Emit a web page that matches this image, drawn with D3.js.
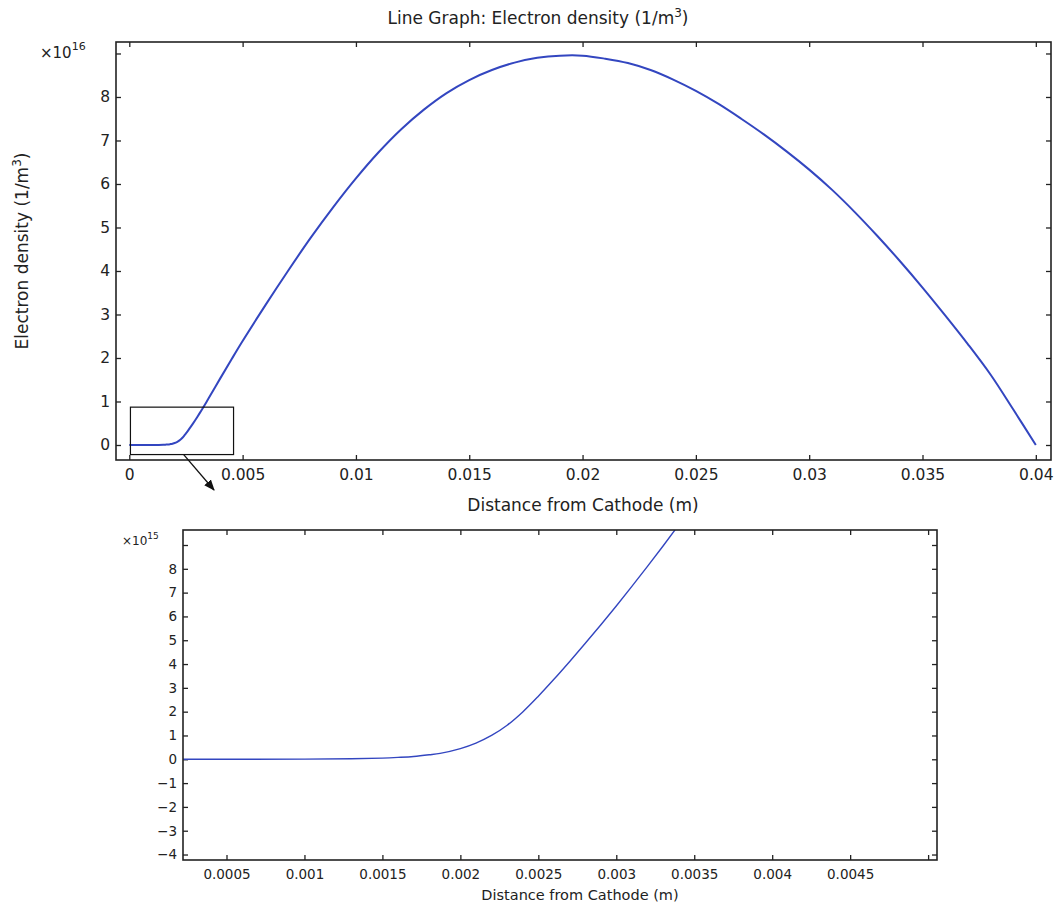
<!DOCTYPE html>
<html>
<head>
<meta charset="utf-8">
<script src="https://cdn.jsdelivr.net/npm/d3@7"></script>
<style>
  body { margin: 0; background: #fff; }
  svg { display: block; font-family: "DejaVu Sans", sans-serif; }
  .tick line { stroke: #222; stroke-width: 1.3; }
  .tick text { fill: #222; }
</style>
</head>
<body>
<svg id="chart" width="1059" height="905"></svg>
<script>
// distance from cathode (m) and electron density (1/m^3)
const distance = [0, 0.0005, 0.001, 0.0013, 0.0015, 0.0016, 0.0017, 0.0018, 0.00187, 0.002, 0.0021, 0.0022,
  0.0023, 0.0024, 0.0025, 0.0026, 0.0027, 0.0028, 0.0029, 0.003, 0.0031, 0.0032, 0.0033, 0.0034, 0.0035,
  0.004, 0.0045, 0.005, 0.006, 0.007, 0.008, 0.009, 0.01, 0.011, 0.012, 0.013, 0.014, 0.015,
  0.016, 0.017, 0.018, 0.019, 0.02, 0.021, 0.022, 0.023, 0.024, 0.025, 0.026, 0.027,
  0.028, 0.029, 0.03, 0.031, 0.032, 0.033, 0.034, 0.035, 0.036, 0.037, 0.038, 0.039, 0.04]
const density = [0, 0.0005e15, 0.005e15, 0.02e15, 0.05e15, 0.08e15, 0.12e15, 0.19e15, 0.25e15, 0.45e15, 0.68e15, 1.0e15,
  1.43e15, 1.99e15, 2.65e15, 3.36e15, 4.10e15, 4.86e15, 5.64e15, 6.44e15, 7.26e15, 8.10e15, 8.96e15, 9.84e15, 1.073e16,
  1.52e16, 1.96e16, 2.39e16, 3.21e16, 4.00e16, 4.76e16, 5.47e16, 6.13e16, 6.73e16, 7.26e16, 7.71e16, 8.09e16, 8.39e16,
  8.62e16, 8.79e16, 8.90e16, 8.95e16, 8.95e16, 8.88e16, 8.78e16, 8.62e16, 8.40e16, 8.14e16, 7.84e16, 7.50e16,
  7.14e16, 6.75e16, 6.33e16, 5.87e16, 5.36e16, 4.81e16, 4.23e16, 3.62e16, 2.98e16, 2.32e16, 1.62e16, 0.82e16, 0]

// tick values
const mainXTicks = [0, 0.005, 0.01, 0.015, 0.02, 0.025, 0.03, 0.035, 0.04]
const mainYTicks = [0, 1, 2, 3, 4, 5, 6, 7, 8, 9]          // x 1e16
const insetXTicks = [0.0005, 0.001, 0.0015, 0.002, 0.0025, 0.003, 0.0035, 0.004, 0.0045, 0.005]
const insetYTicks = [-4, -3, -2, -1, 0, 1, 2, 3, 4, 5, 6, 7, 8, 9]  // x 1e15

// zoom box drawn on the main plot (data units)
const zoomBoxX = [0.00005, 0.0046]
const zoomBoxY = [-0.22e16, 0.87e16]

const data = distance.map((d, i) => ({ x: d, y: density[i] }))

const svg = d3.select("#chart")
const lineColor = "#3346c0"
const fmt = d3.format("~g")

svg.append("defs").append("marker")
  .attr("id", "arrow")
  .attr("viewBox", "0 0 10 10")
  .attr("refX", 9).attr("refY", 5)
  .attr("markerWidth", 11).attr("markerHeight", 11)
  .attr("markerUnits", "userSpaceOnUse")
  .attr("orient", "auto")
  .append("path").attr("d", "M0,1 L10,5 L0,9 Z").attr("fill", "#111")

function drawPanel(opt) {
  const { left, top, width, height, xDomain, yDomain, xTicks, yTicks, yUnit, xHide, yHide, fontSize, lineWidth, clipId } = opt

  const x = d3.scaleLinear().domain(xDomain).range([left, left + width])
  const y = d3.scaleLinear().domain(yDomain).range([top + height, top])

  const g = svg.append("g")

  g.append("clipPath").attr("id", clipId)
    .append("rect").attr("x", left).attr("y", top).attr("width", width).attr("height", height)

  const yTickVals = yTicks.map(t => t * yUnit)

  const bottom = g.append("g").attr("transform", `translate(0,${top + height})`)
    .call(d3.axisBottom(x).tickValues(xTicks).tickSize(-5).tickPadding(9)
      .tickFormat(d => xHide.includes(d) ? "" : fmt(d)))
  const topAx = g.append("g").attr("transform", `translate(0,${top})`)
    .call(d3.axisTop(x).tickValues(xTicks).tickSize(-5).tickFormat(""))
  const leftAx = g.append("g").attr("transform", `translate(${left},0)`)
    .call(d3.axisLeft(y).tickValues(yTickVals).tickSize(-5).tickPadding(6)
      .tickFormat(d => yHide.includes(Math.round(d / yUnit)) ? "" : fmt(Math.round(d / yUnit))))
  const rightAx = g.append("g").attr("transform", `translate(${left + width},0)`)
    .call(d3.axisRight(y).tickValues(yTickVals).tickSize(-5).tickFormat(""))

  ;[bottom, topAx, leftAx, rightAx].forEach(a => {
    a.select(".domain").remove()
    a.selectAll("text").attr("font-size", fontSize).attr("font-family", "DejaVu Sans, sans-serif")
  })

  g.append("path")
    .datum(data)
    .attr("clip-path", `url(#${clipId})`)
    .attr("fill", "none")
    .attr("stroke", lineColor)
    .attr("stroke-width", lineWidth)
    .attr("d", d3.line().x(d => x(d.x)).y(d => y(d.y)).curve(d3.curveCatmullRom.alpha(0.5)))

  g.append("rect")
    .attr("x", left).attr("y", top).attr("width", width).attr("height", height)
    .attr("fill", "none").attr("stroke", "#222").attr("stroke-width", 1.6)

  return { x, y, g }
}

// title
const title = svg.append("text")
  .attr("x", 538).attr("y", 24)
  .attr("text-anchor", "middle")
  .attr("font-size", 17).attr("fill", "#222")
title.append("tspan").text("Line Graph: Electron density (1/m")
title.append("tspan").attr("font-size", 12).attr("dy", -7).text("3")
title.append("tspan").attr("dy", 7).text(")")

// main plot
const main = drawPanel({
  left: 116, top: 42, width: 935, height: 418,
  xDomain: [-0.000587, 0.04067], yDomain: [-0.345e16, 9.264e16],
  xTicks: mainXTicks, yTicks: mainYTicks, yUnit: 1e16,
  xHide: [], yHide: [9], fontSize: 15.5, lineWidth: 2, clipId: "clipMain"
})

const mx = svg.append("text").attr("x", 40).attr("y", 58).attr("font-size", 15).attr("fill", "#222")
mx.append("tspan").text("×10")
mx.append("tspan").attr("font-size", 11).attr("dy", -8).text("16")

svg.append("text")
  .attr("transform", "translate(28,251) rotate(-90)")
  .attr("text-anchor", "middle").attr("font-size", 17).attr("fill", "#222")
  .call(t => {
    t.append("tspan").text("Electron density (1/m")
    t.append("tspan").attr("font-size", 12).attr("dy", -7).text("3")
    t.append("tspan").attr("dy", 7).text(")")
  })

svg.append("text")
  .attr("x", 583).attr("y", 511)
  .attr("text-anchor", "middle").attr("font-size", 17).attr("fill", "#222")
  .text("Distance from Cathode (m)")

// zoom box on main plot
const bx0 = main.x(zoomBoxX[0]), bx1 = main.x(zoomBoxX[1])
const by0 = main.y(zoomBoxY[1]), by1 = main.y(zoomBoxY[0])
svg.append("rect")
  .attr("x", bx0).attr("y", by0).attr("width", bx1 - bx0).attr("height", by1 - by0)
  .attr("fill", "none").attr("stroke", "#111").attr("stroke-width", 1.2)

// arrow from zoom box to inset
svg.append("line")
  .attr("x1", main.x(0.0024)).attr("y1", by1)
  .attr("x2", 214).attr("y2", 490)
  .attr("stroke", "#111").attr("stroke-width", 1.3)
  .attr("marker-end", "url(#arrow)")

// inset plot
const inset = drawPanel({
  left: 183, top: 530, width: 754, height: 330,
  xDomain: [0.000221, 0.005057], yDomain: [-4.23e15, 9.63e15],
  xTicks: insetXTicks, yTicks: insetYTicks, yUnit: 1e15,
  xHide: [0.005], yHide: [9], fontSize: 13.5, lineWidth: 1.4, clipId: "clipInset"
})

const ix = svg.append("text").attr("x", 122).attr("y", 545).attr("font-size", 12).attr("fill", "#222")
ix.append("tspan").text("×10")
ix.append("tspan").attr("font-size", 9).attr("dy", -6).text("15")

svg.append("text")
  .attr("x", 580).attr("y", 900)
  .attr("text-anchor", "middle").attr("font-size", 14.5).attr("fill", "#222")
  .text("Distance from Cathode (m)")
</script>
</body>
</html>
